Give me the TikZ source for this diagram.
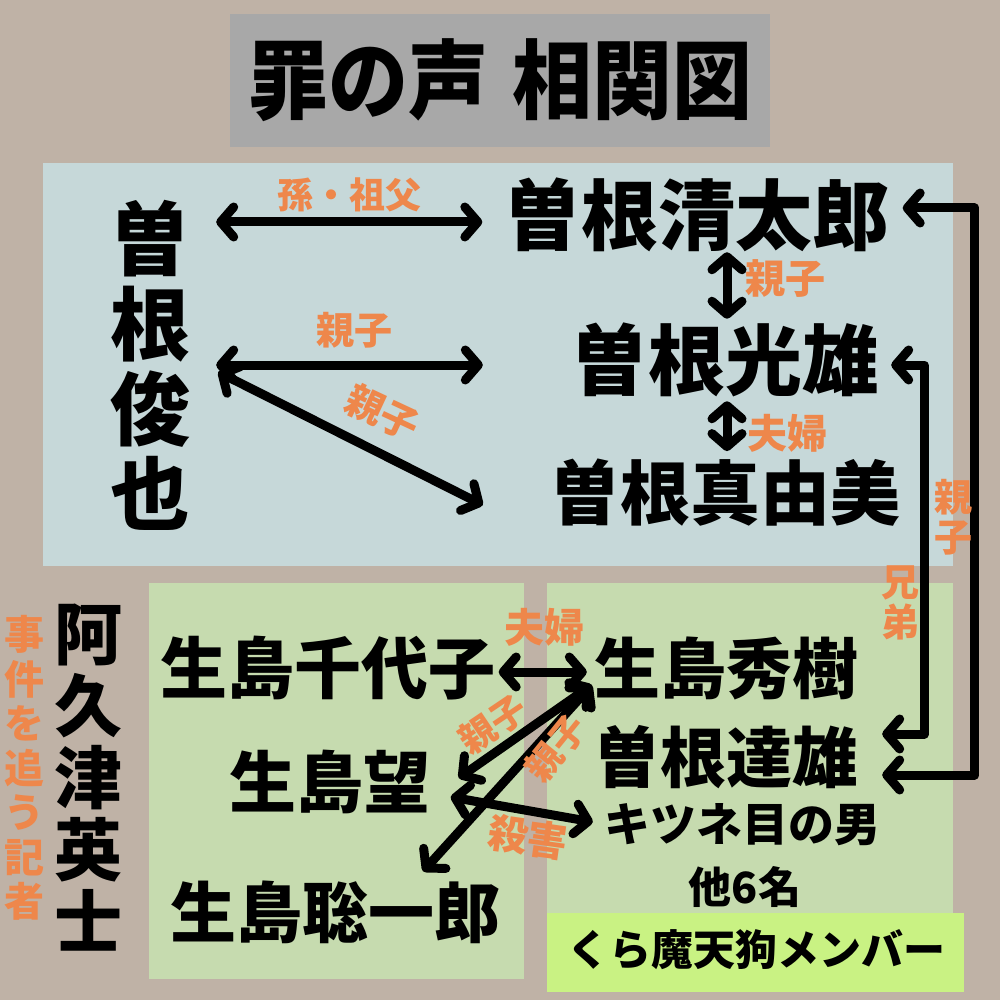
\documentclass[tikz,border=0pt]{standalone}
\usepackage{fontspec}
\usetikzlibrary{arrows.meta,calc}
\newfontfamily\jp{Noto Sans CJK JP}
\newcommand{\jpsize}[2]{\jp\bfseries\fontsize{#1}{#2}\selectfont}
\definecolor{bgtaupe}{RGB}{191,178,166}
\definecolor{titlegray}{RGB}{168,168,168}
\definecolor{panelblue}{RGB}{198,216,217}
\definecolor{panelgreen}{RGB}{198,219,175}
\definecolor{limegreen}{RGB}{201,242,131}
\definecolor{tagorange}{RGB}{238,135,75}
\begin{document}
\begin{tikzpicture}[x=1pt,y=-1pt,
  person/.style={inner sep=0pt, font=\jpsize{#1}{#1}},
  tag/.style={inner sep=0pt, text=tagorange, font=\jpsize{#1}{#1}},
  rel/.style={line width=9pt, line cap=round, line join=round,
    {Straight Barb[length=13pt,width=30pt,round]}-{Straight Barb[length=13pt,width=30pt,round]}}]
\fill [bgtaupe] (0,0) rectangle (1000,1000);
\useasboundingbox (0,0) rectangle (1000,1000);
\fill [titlegray] (230,14) rectangle (770,147);
\fill [panelblue] (43,163) rectangle (953,566);
\fill [panelgreen] (149,583) rectangle (524,979);
\fill [panelgreen] (547,583) rectangle (953,979);
\fill [limegreen] (547,913) rectangle (964,992);
\node [person=80, yscale=1.08] (title) at (500,80) {罪の声\hspace{0.3em}相関図};
\node [person=80, align=center, font=\jpsize{80}{85}] (toshiya) at (150,365) {曽\\根\\俊\\也};
\node [person=77] (seitaro) at (697,215) {曽根清太郎};
\node [person=77] (mitsuo) at (725,360) {曽根光雄};
\node [person=70] (mayumi) at (725,493) {曽根真由美};
\node [person=67] (chiyoko) at (328,668) {生島千代子};
\node [person=66] (hideki) at (726,668) {生島秀樹};
\node [person=66] (tatsuo) at (726,757) {曽根達雄};
\node [person=67] (nozomi) at (330,782) {生島望};
\node [person=46] (kitsune) at (742,825) {キツネ目の男};
\node [person=43] (others) at (745,887) {他6名};
\node [person=66] (soichiro) at (335,912) {生島聡一郎};
\node [person=42] (kura) at (756,950) {くら魔天狗メンバー};
\node [person=68, align=center, font=\jpsize{68}{72}] (akutsu) at (88,778) {阿\\久\\津\\英\\士};
\node [tag=40, align=center, font=\jpsize{40}{44.5}] (kisha) at (25,768) {事\\件\\を\\追\\う\\記\\者};
\draw [rel] ($(toshiya.east)+(26,-143)$) -- ($(seitaro.west)+(-22,7)$);
\draw [rel] ($(toshiya.east)+(26,0)$) -- ($(mitsuo.west)+(-88,5)$);
\draw [rel] ($(toshiya.east)+(28,7)$) -- ($(mayumi.west)+(-67,12)$);
\draw [rel] ($(seitaro.south)+(30,0)$) -- ($(mitsuo.north)+(2,-4)$);
\draw [rel] ($(mitsuo.south)+(2,4)$) -- ($(mayumi.north)+(2,-8)$);
\draw [rel] ($(chiyoko.east)+(3,4)$) -- ($(hideki.west)+(-7,4)$);
\draw [rel] ($(hideki.west)+(-2,17)$) -- ($(nozomi.east)+(28,-4)$);
\draw [rel] ($(hideki.west)+(-2,17)$) -- ($(soichiro.north)+(88,-9)$);
\draw [rel] ($(nozomi.east)+(20,15)$) -- ($(kitsune.west)+(-11,-3)$);
\draw [rel] ($(seitaro.east)+(13,-7)$) -- ++(72,0) |- ($(tatsuo.east)+(24,18)$);
\draw [rel] ($(mitsuo.east)+(12,5)$) -- ++(33,0) |- ($(tatsuo.east)+(24,-23)$);
\node [tag=36] (sonfu) at (349,195) {孫・祖父};
\node [tag=38] (oyako1) at (354,330) {親子};
\node [tag=38, rotate=-25] (oyako2) at (383,413) {親子};
\node [tag=40] (oyako3) at (785,279) {親子};
\node [tag=40] (fufu1) at (787,433) {夫婦};
\node [tag=40] (fufu2) at (544,627) {夫婦};
\node [tag=36, rotate=34] (oyako4) at (493,724) {親子};
\node [tag=36, rotate=51] (oyako5) at (556,748) {親子};
\node [tag=40, rotate=-8] (satsugai) at (528,837) {殺害};
\node [tag=38, align=center, font=\jpsize{38}{40}] (oyako6) at (953,517) {親\\子};
\node [tag=38, align=center, font=\jpsize{38}{40}] (kyodai) at (900,603) {兄\\弟};
\end{tikzpicture}
\end{document}
